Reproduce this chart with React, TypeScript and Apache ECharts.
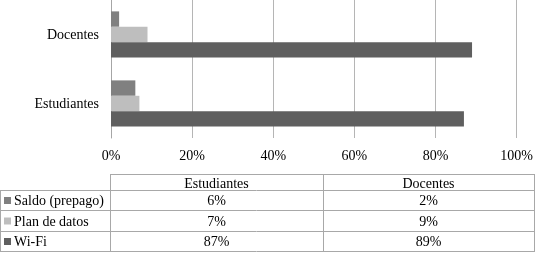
import React, { useEffect, useRef } from "react";
import * as echarts from "echarts";

const categories = ["Estudiantes", "Docentes"];
const seriesNames = ["Saldo (prepago)", "Plan de datos", "Wi-Fi"];
const saldo = [6, 2];
const planDatos = [7, 9];
const wifi = [87, 89];
const seriesColors = ["#808080", "#bebebe", "#5f5f5f"];
const xTicks = [0, 20, 40, 60, 80, 100];

const FONT = "serif";

export default function App() {
  const ref = useRef<HTMLDivElement>(null);
  useEffect(() => {
    document.body.style.margin = "0";
    const chart = echarts.init(ref.current!, null, { renderer: "svg" });
    const values = [saldo, planDatos, wifi];

    // table geometry
    const colX = [0, 110, 323, 534];
    const rowY = [174, 190, 210, 231, 251];
    const lineColor = "#a8a8a8";
    const graphics: any[] = [];
    const hline = (x1: number, x2: number, y: number) =>
      graphics.push({
        type: "line",
        shape: { x1, y1: y + 0.5, x2, y2: y + 0.5 },
        style: { stroke: lineColor, lineWidth: 1 },
        silent: true,
      });
    const vline = (x: number, y1: number, y2: number) =>
      graphics.push({
        type: "line",
        shape: { x1: x + 0.5, y1, x2: x + 0.5, y2 },
        style: { stroke: lineColor, lineWidth: 1 },
        silent: true,
      });
    hline(colX[1], colX[3] + 1, rowY[0]);
    for (let i = 1; i < rowY.length; i++) hline(colX[0], colX[3] + 1, rowY[i]);
    vline(colX[0], rowY[1], rowY[4] + 1);
    vline(colX[1], rowY[0], rowY[4] + 1);
    vline(colX[2], rowY[0], rowY[4] + 1);
    vline(colX[3], rowY[0], rowY[4] + 1);

    const txt = (text: string, x: number, y: number, align: string) => ({
      type: "text",
      x,
      y,
      style: { text, fontFamily: FONT, fontSize: 14, fill: "#000", align, verticalAlign: "middle" },
      silent: true,
    });

    categories.forEach((c, ci) => {
      graphics.push(txt(c, (colX[ci + 1] + colX[ci + 2]) / 2, (rowY[0] + rowY[1]) / 2 + 1, "center"));
    });
    seriesNames.forEach((name, si) => {
      const cy = (rowY[si + 1] + rowY[si + 2]) / 2 + 0.5;
      graphics.push({
        type: "rect",
        shape: { x: 4, y: cy - 3.5, width: 7, height: 7 },
        style: { fill: seriesColors[si] },
        silent: true,
      });
      graphics.push(txt(name, 14, cy, "left"));
      categories.forEach((c, ci) => {
        graphics.push(txt(values[si][ci] + "%", (colX[ci + 1] + colX[ci + 2]) / 2, cy, "center"));
      });
    });

    chart.setOption({
      animation: false,
      grid: { left: 111, right: 17, top: 0, bottom: 115, containLabel: false },
      xAxis: {
        type: "value",
        min: xTicks[0],
        max: xTicks[xTicks.length - 1],
        interval: 20,
        axisLabel: { formatter: "{value}%", color: "#000", fontFamily: FONT, fontSize: 14, margin: 10 },
        axisLine: { show: false },
        axisTick: { show: false },
        splitLine: { show: true, lineStyle: { color: "#b5b5b5", width: 1 } },
      },
      yAxis: {
        type: "category",
        data: categories,
        axisLabel: { color: "#000", fontFamily: FONT, fontSize: 14, margin: 12 },
        axisLine: { show: true, lineStyle: { color: "#a6a6a6", width: 1 } },
        axisTick: { show: false },
      },
      series: seriesNames.map((name, si) => ({
        type: "bar",
        name,
        data: values[si],
        barGap: "0%",
        barCategoryGap: "33%",
        itemStyle: { color: seriesColors[si] },
      })),
      graphic: graphics,
    });
    return () => chart.dispose();
  }, []);
  return <div ref={ref} style={{ position: "fixed", left: 0, top: 0, width: 536, height: 253 }} />;
}
